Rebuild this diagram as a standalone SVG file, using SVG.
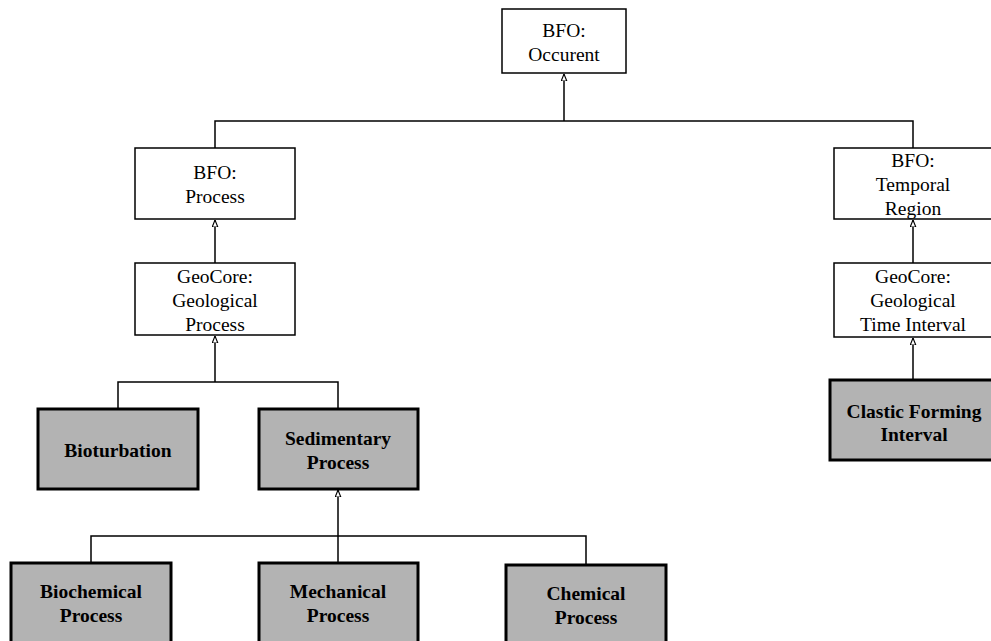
<svg xmlns="http://www.w3.org/2000/svg" width="991" height="641" viewBox="0 0 991 641">
<style>
.bg{fill:#ffffff}
.n rect{fill:#ffffff;stroke:#000000;stroke-width:1.5}
.g rect{fill:#b3b3b3;stroke:#000000;stroke-width:3}
.n text{font-family:"Liberation Serif","Times New Roman",serif;font-size:19.5px;fill:#000000;text-anchor:middle}
.g text{font-family:"Liberation Serif","Times New Roman",serif;font-size:19.5px;font-weight:bold;fill:#000000;text-anchor:middle}
.c path{fill:none;stroke:#000000;stroke-width:1.5}
</style>
<defs>
<marker id="tri" viewBox="0 0 10 10" refX="10" refY="5" markerWidth="7" markerHeight="7" markerUnits="userSpaceOnUse" orient="auto">
<path d="M0,1 L10,5 L0,9 Z" fill="#ffffff" stroke="#000000" stroke-width="1.6"/>
</marker>
</defs>
<rect class="bg" x="0" y="0" width="991" height="641"/>
<g id="connectors" class="c">
<path d="M564,121 V74" marker-end="url(#tri)"/>
<path d="M215,148 V121 H913 V148"/>
<path d="M215,263 V220" marker-end="url(#tri)"/>
<path d="M215,382 V336" marker-end="url(#tri)"/>
<path d="M118,409 V382 H338 V409"/>
<path d="M338,536 V490" marker-end="url(#tri)"/>
<path d="M91,563 V536 H586 V565"/>
<path d="M338,536 V563"/>
<path d="M913,263 V220" marker-end="url(#tri)"/>
<path d="M913,380 V338" marker-end="url(#tri)"/>
</g>
<g id="occurent" class="n">
<rect x="502" y="9" width="124" height="64"/>
<text x="564" y="37">BFO:</text>
<text x="564" y="61">Occurent</text>
</g>
<g id="process" class="n">
<rect x="135" y="148" width="160" height="71"/>
<text x="215" y="179">BFO:</text>
<text x="215" y="203">Process</text>
</g>
<g id="geological-process" class="n">
<rect x="135" y="263" width="160" height="72"/>
<text x="215" y="283">GeoCore:</text>
<text x="215" y="307">Geological</text>
<text x="215" y="331">Process</text>
</g>
<g id="temporal-region" class="n">
<rect x="834" y="148" width="160" height="71"/>
<text x="913" y="167">BFO:</text>
<text x="913" y="191">Temporal</text>
<text x="913" y="215">Region</text>
</g>
<g id="geological-time-interval" class="n">
<rect x="834" y="263" width="160" height="74"/>
<text x="913" y="283">GeoCore:</text>
<text x="913" y="307">Geological</text>
<text x="913" y="331">Time Interval</text>
</g>
<g id="bioturbation" class="g">
<rect x="38" y="409" width="160" height="80"/>
<text x="118" y="457">Bioturbation</text>
</g>
<g id="sedimentary-process" class="g">
<rect x="259" y="409" width="159" height="80"/>
<text x="338" y="445">Sedimentary</text>
<text x="338" y="469">Process</text>
</g>
<g id="clastic-forming-interval" class="g">
<rect x="830" y="380" width="164" height="80"/>
<text x="914" y="418">Clastic Forming</text>
<text x="914" y="441">Interval</text>
</g>
<g id="biochemical-process" class="g">
<rect x="11" y="563" width="160" height="84"/>
<text x="91" y="598">Biochemical</text>
<text x="91" y="622">Process</text>
</g>
<g id="mechanical-process" class="g">
<rect x="259" y="563" width="159" height="84"/>
<text x="338" y="598">Mechanical</text>
<text x="338" y="622">Process</text>
</g>
<g id="chemical-process" class="g">
<rect x="506" y="565" width="160" height="84"/>
<text x="586" y="600">Chemical</text>
<text x="586" y="624">Process</text>
</g>
</svg>
